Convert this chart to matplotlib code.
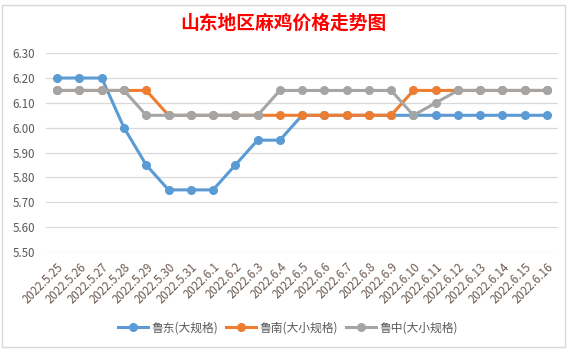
import matplotlib
matplotlib.use('Agg')
import matplotlib.pyplot as plt
from matplotlib.patches import Rectangle

plt.rcParams['font.family'] = ['Noto Sans CJK SC', 'DejaVu Sans']

# dates on the category axis
dates = ['2022.5.25', '2022.5.26', '2022.5.27', '2022.5.28', '2022.5.29',
         '2022.5.30', '2022.5.31', '2022.6.1', '2022.6.2', '2022.6.3',
         '2022.6.4', '2022.6.5', '2022.6.6', '2022.6.7', '2022.6.8',
         '2022.6.9', '2022.6.10', '2022.6.11', '2022.6.12', '2022.6.13',
         '2022.6.14', '2022.6.15', '2022.6.16']

# prices per region
ludong = [6.20, 6.20, 6.20, 6.00, 5.85, 5.75, 5.75, 5.75, 5.85, 5.95, 5.95, 6.05,
          6.05, 6.05, 6.05, 6.05, 6.05, 6.05, 6.05, 6.05, 6.05, 6.05, 6.05]
lunan = [6.15, 6.15, 6.15, 6.15, 6.15, 6.05, 6.05, 6.05, 6.05, 6.05, 6.05, 6.05,
         6.05, 6.05, 6.05, 6.05, 6.15, 6.15, 6.15, 6.15, 6.15, 6.15, 6.15]
luzhong = [6.15, 6.15, 6.15, 6.15, 6.05, 6.05, 6.05, 6.05, 6.05, 6.05, 6.15, 6.15,
           6.15, 6.15, 6.15, 6.15, 6.05, 6.10, 6.15, 6.15, 6.15, 6.15, 6.15]

names = ['鲁东(大规格)', '鲁南(大小规格)', '鲁中(大小规格)']
colors = ['#5B9BD5', '#ED7D31', '#A5A5A5']
yticks = [5.50, 5.60, 5.70, 5.80, 5.90, 6.00, 6.10, 6.20, 6.30]

fig = plt.figure(figsize=(5.76, 3.52), dpi=100)
# chart border
fig.patches.append(Rectangle((0.004, 0.015), 0.977, 0.97, transform=fig.transFigure,
                             fill=False, edgecolor='#D9D9D9', linewidth=1))

ax = fig.add_axes([0.080, 0.284, 0.889, 0.565])
x = list(range(len(dates)))
for vals, name, c in zip([ludong, lunan, luzhong], names, colors):
    ax.plot(x, vals, color=c, linewidth=2.2, marker='o', markersize=5.5, label=name)

ax.set_xlim(-0.5, len(dates) - 0.5)
ax.set_ylim(5.5, 6.3)
ax.set_yticks(yticks)
ax.set_yticklabels(['%.2f' % v for v in yticks])
ax.yaxis.grid(True, color='#D9D9D9', linewidth=0.9)
ax.set_axisbelow(True)
for s in ax.spines.values():
    s.set_visible(False)
ax.tick_params(axis='y', length=0, labelsize=8.3, labelcolor='#595959', pad=8)
ax.set_xticks(x)
ax.set_xticklabels(dates, rotation=45, ha='right', rotation_mode='anchor')
ax.tick_params(axis='x', length=0, labelsize=8.3, labelcolor='#6b5a50', pad=6)

fig.text(0.492, 0.935, '山东地区麻鸡价格走势图', color='#FF0000', fontsize=13.5,
         fontweight='bold', ha='center', va='center')

fig.legend(loc='center', bbox_to_anchor=(0.5, 0.068), ncol=3, frameon=False,
           fontsize=8.5, labelcolor='#595959', handlelength=2.6, columnspacing=0.6,
           handletextpad=0.3)

fig.savefig('out.png', dpi=100)
